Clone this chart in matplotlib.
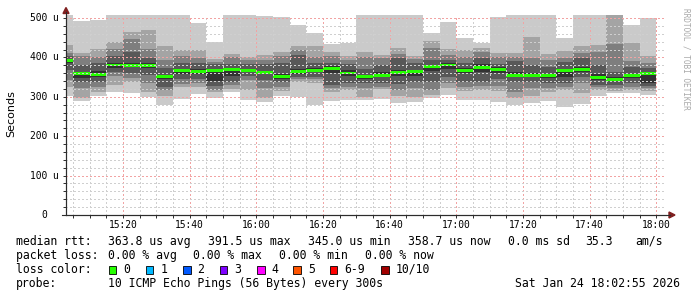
import matplotlib
matplotlib.use("Agg")
import matplotlib.pyplot as plt
from matplotlib.patches import Rectangle, Polygon
from matplotlib.lines import Line2D

# ---------------- data ----------------
times = ["15:05", "15:10", "15:15", "15:20", "15:25", "15:30", "15:35", "15:40", "15:45",
         "15:50", "15:55", "16:00", "16:05", "16:10", "16:15", "16:20", "16:25", "16:30",
         "16:35", "16:40", "16:45", "16:50", "16:55", "17:00", "17:05", "17:10", "17:15",
         "17:20", "17:25", "17:30", "17:35", "17:40", "17:45", "17:50", "17:55", "18:00"]

# sorted ping round-trip times (microseconds), rank 1 (fastest) .. rank 10 (slowest)
ping1 = [302.0, 289.3, 300.8, 313.0, 309.6, 300.2, 279.2, 294.4, 307.1, 295.7, 311.4, 291.9,
         287.6, 302.0, 300.2, 279.2, 289.3, 291.9, 291.9, 294.4, 283.0, 286.0, 296.2, 304.6,
         291.9, 291.9, 287.6, 280.4, 283.5, 289.3, 274.9, 281.7, 302.0, 308.4, 308.9, 305.8]
ping2 = [324.9, 298.2, 311.4, 330.0, 338.8, 312.2, 300.8, 323.6, 324.9, 312.2, 321.0, 317.3,
         295.7, 314.7, 337.6, 334.3, 313.0, 318.5, 300.2, 321.0, 302.0, 300.2, 304.6, 321.6,
         315.5, 317.3, 314.0, 298.2, 302.0, 312.2, 317.3, 309.6, 317.3, 314.7, 317.3, 314.7]
ping3 = [342.6, 322.3, 324.9, 352.8, 347.7, 335.0, 317.3, 332.5, 335.0, 318.5, 330.0, 342.6,
         321.6, 324.9, 343.9, 345.2, 321.6, 324.9, 321.6, 326.1, 317.3, 321.6, 317.3, 335.0,
         324.9, 328.2, 328.2, 313.0, 322.3, 321.6, 325.6, 334.3, 323.6, 322.3, 324.9, 322.3]
ping4 = [368.0, 338.3, 338.3, 363.0, 359.6, 355.3, 324.9, 345.2, 345.2, 327.4, 337.6, 354.0,
         342.6, 338.8, 349.0, 351.0, 330.0, 335.0, 335.0, 335.0, 332.5, 337.6, 337.6, 351.0,
         337.6, 337.6, 345.2, 337.6, 337.6, 335.0, 335.0, 350.2, 330.0, 330.0, 335.0, 328.2]
ping5 = [385.8, 348.5, 349.0, 373.0, 374.4, 373.0, 345.2, 359.1, 357.9, 340.1, 352.8, 361.7,
         356.6, 346.4, 357.9, 361.7, 360.4, 352.8, 346.4, 349.0, 352.8, 352.8, 365.5, 370.5,
         360.4, 363.0, 360.4, 349.0, 349.0, 348.5, 350.2, 361.7, 341.4, 340.1, 347.7, 335.0]
ping6 = [396.0, 363.7, 365.5, 385.8, 385.8, 385.8, 355.3, 370.5, 369.3, 370.5, 373.0, 371.8,
         366.7, 357.9, 370.5, 373.0, 376.9, 368.0, 355.3, 361.7, 368.0, 368.0, 380.7, 385.8,
         373.0, 382.0, 375.6, 361.7, 360.4, 357.9, 370.5, 375.6, 357.9, 351.5, 359.1, 363.0]
ping7 = [403.5, 380.7, 385.8, 404.3, 413.7, 398.5, 373.0, 385.8, 385.0, 382.0, 383.2, 383.2,
         383.2, 385.8, 406.0, 385.8, 385.8, 382.0, 370.5, 380.7, 398.5, 385.8, 393.4, 393.4,
         385.8, 398.5, 383.2, 389.6, 380.7, 376.4, 388.3, 398.5, 380.7, 363.7, 376.4, 373.0]
ping8 = [411.2, 403.5, 401.0, 420.8, 446.7, 421.3, 393.4, 403.5, 399.7, 388.3, 401.0, 393.4,
         393.4, 403.5, 418.8, 401.0, 402.3, 393.4, 401.0, 398.5, 407.4, 396.0, 423.1, 406.0,
         401.8, 412.9, 401.0, 401.0, 399.2, 393.4, 399.7, 410.4, 414.5, 434.0, 389.6, 385.8]
ping9 = [431.5, 411.2, 420.5, 439.8, 465.2, 469.5, 428.9, 420.0, 418.8, 396.0, 408.6, 401.8,
         406.0, 413.7, 428.9, 428.9, 413.7, 403.5, 413.7, 406.0, 422.6, 402.3, 441.6, 421.3,
         418.0, 424.6, 411.2, 411.2, 452.5, 408.6, 416.2, 428.9, 430.2, 530.0, 437.8, 402.3]
ping10 = [530.0, 492.4, 494.9, 530.0, 530.0, 530.0, 530.0, 530.0, 486.5, 440.3, 530.0, 530.0,
          503.8, 502.5, 481.0, 461.2, 434.0, 436.5, 530.0, 530.0, 530.0, 530.0, 461.9, 490.6,
          448.5, 436.5, 503.3, 530.0, 530.0, 530.0, 449.2, 530.0, 530.0, 540.0, 482.2, 500.8]
median = [391.5, 359.6, 357.0, 380.7, 380.0, 380.0, 351.0, 365.5, 363.7, 366.7, 368.8, 367.2,
          361.2, 351.0, 363.7, 368.0, 371.3, 360.4, 351.0, 355.3, 361.2, 363.0, 376.4, 380.7,
          368.0, 375.6, 370.5, 355.3, 354.6, 353.5, 365.5, 369.3, 350.2, 345.0, 353.5, 358.7]

step_min = 5
x_start, x_end = "15:02:55", "18:02:55"
xtick_labels = ["15:20", "15:40", "16:00", "16:20", "16:40", "17:00", "17:20", "17:40", "18:00"]
ytick_values = [0, 100, 200, 300, 400, 500]
ytick_labels = ["0", "100 u", "200 u", "300 u", "400 u", "500 u"]

legend_rtt = ["363.8 us avg", "391.5 us max", "345.0 us min", "358.7 us now", "0.0 ms sd", "35.3", "am/s"]
legend_loss = ["0.00 % avg", "0.00 % max", "0.00 % min", "0.00 % now"]
loss_names = ["0", "1", "2", "3", "4", "5", "6-9", "10/10"]
loss_colors = ["#26ff00", "#00b8ff", "#0059ff", "#7e00ff", "#ff00ff", "#ff5500", "#ff0000", "#a10000"]
probe_text = "10 ICMP Echo Pings (56 Bytes) every 300s"
date_text = "Sat Jan 24 18:02:55 2026"

smoke_colors = ["#cacaca", "#a4a4a4", "#7e7e7e", "#585858", "#323232"]

# ---------------- helpers ----------------
W, H = 697, 297


def to_min(s):
    parts = [int(p) for p in s.split(":")]
    while len(parts) < 3:
        parts.append(0)
    return (parts[0] - 15) * 60 + parts[1] + parts[2] / 60.0


def fx(x):
    return x / W


def fy(y):
    return 1 - y / H


mono = "DejaVu Sans Mono"

fig = plt.figure(figsize=(W / 100, H / 100), dpi=100)
fig.patch.set_facecolor("white")
ax = fig.add_axes([66 / W, (H - 215) / H, 600 / W, 200 / H])
ax.set_facecolor("white")

ends = [to_min(t) for t in times]
edges = [e - step_min for e in ends] + [ends[-1]]

ranks = [ping1, ping2, ping3, ping4, ping5, ping6, ping7, ping8, ping9, ping10]
for i in range(5):
    lo = ranks[i] + [ranks[i][-1]]
    hi = ranks[9 - i] + [ranks[9 - i][-1]]
    ax.fill_between(edges, lo, hi, step="post", color=smoke_colors[i], linewidth=0, zorder=2)

half = 3.8
med_lo = [m - half for m in median] + [median[-1] - half]
med_hi = [m + half for m in median] + [median[-1] + half]
ax.fill_between(edges, med_lo, med_hi, step="post", color=loss_colors[0], linewidth=0, zorder=3)

xmin, xmax = to_min(x_start), to_min(x_end)
ax.set_xlim(xmin, xmax)
ymax = 507.6
ax.set_ylim(0, ymax)

# grid (drawn on top like rrdtool)
grid_kw = dict(lw=1.0, ls=(0, (1, 1.6)), zorder=4, antialiased=False)
minor_x = [m for m in range(0, 185, 5) if xmin < m <= xmax]
major_x = [to_min(t) for t in xtick_labels]
for m in minor_x:
    if m in major_x:
        continue
    ax.axvline(m, color="#cfcfcf", **grid_kw)
for m in major_x:
    ax.axvline(m, color="#f2a3a3", **grid_kw)
for v in range(20, 501, 20):
    ax.axhline(v, color="#f2a3a3" if v % 100 == 0 else "#cfcfcf", **grid_kw)

for s in ["top", "right"]:
    ax.spines[s].set_visible(False)
for s in ["left", "bottom"]:
    ax.spines[s].set_color("#2c2c2c")
    ax.spines[s].set_linewidth(0.8)

ax.set_xticks(minor_x)
ax.set_xticklabels([])
ax.set_yticks(list(range(0, 501, 20)))
ax.set_yticklabels([])
ax.tick_params(axis="both", direction="out", length=2, width=0.7, color="#2c2c2c")

# tick labels
for lab in xtick_labels:
    ax.text(to_min(lab), -10 / 200 * ymax, lab, ha="center", va="center",
            fontsize=6.9, family=mono, color="black", clip_on=False)
for v, lab in zip(ytick_values, ytick_labels):
    fig.text(fx(44.5), fig.transFigure.inverted().transform(ax.transData.transform((0, v)))[1],
             lab, ha="center", va="center", fontsize=6.9, family=mono, color="black")

# axis extensions + arrows
arrow_c = "#7f1f1f"
fig.add_artist(Line2D([fx(66), fx(66)], [fy(215), fy(12)], color="#2c2c2c", lw=0.8))
fig.add_artist(Line2D([fx(62), fx(670)], [fy(215), fy(215)], color="#2c2c2c", lw=0.8))
fig.add_artist(Polygon([[fx(63), fy(13.5)], [fx(69), fy(13.5)], [fx(66), fy(7.5)]],
                       closed=True, color=arrow_c, transform=fig.transFigure))
fig.add_artist(Polygon([[fx(669), fy(212)], [fx(669), fy(218)], [fx(675), fy(215)]],
                       closed=True, color=arrow_c, transform=fig.transFigure))

# y label
fig.text(fx(11.5), fy(113.5), "Seconds", rotation=90, ha="center", va="center",
         fontsize=8, family="DejaVu Sans", color="black")
# watermark
fig.text(fx(686), fy(59), "RRDTOOL / TOBI OETIKER", rotation=270, ha="center", va="center",
         fontsize=5.6, family=mono, color="#a8a8a8")

# legend lines
fs = 8.3
base1, base2, base3, base4 = 245.0, 259.0, 273.0, 287.0
fig.text(fx(16), fy(base1), "median rtt:", fontsize=fs, family=mono, va="baseline")
rtt_x = [107.6, 207.6, 307.6, 407.6, 507.6, 585.3, 635.6]
for x, t in zip(rtt_x, legend_rtt):
    fig.text(fx(x), fy(base1), t, fontsize=fs, family=mono, va="baseline")

fig.text(fx(16), fy(base2), "packet loss:", fontsize=fs, family=mono, va="baseline")
loss_x = [107.6, 193.3, 279.0, 365.3]
for x, t in zip(loss_x, legend_loss):
    fig.text(fx(x), fy(base2), t, fontsize=fs, family=mono, va="baseline")

fig.text(fx(16), fy(base3), "loss color:", fontsize=fs, family=mono, va="baseline")
box_x = [108.9, 145.8, 183.0, 220.0, 257.0, 293.3, 329.8, 381.3]
for x, name, col in zip(box_x, loss_names, loss_colors):
    fig.add_artist(Rectangle((fx(x), fy(273.5)), 7.5 / W, 8 / H, transform=fig.transFigure,
                             facecolor=col, edgecolor="black", lw=0.6))
    fig.text(fx(x + 14.5), fy(base3), name, fontsize=fs, family=mono, va="baseline")

fig.text(fx(16), fy(base4), "probe:", fontsize=fs, family=mono, va="baseline")
fig.text(fx(107.6), fy(base4), probe_text, fontsize=fs, family=mono, va="baseline")
fig.text(fx(680), fy(base4), date_text, fontsize=fs, family=mono, va="baseline", ha="right")

fig.savefig("out.png", dpi=100, facecolor="white")
